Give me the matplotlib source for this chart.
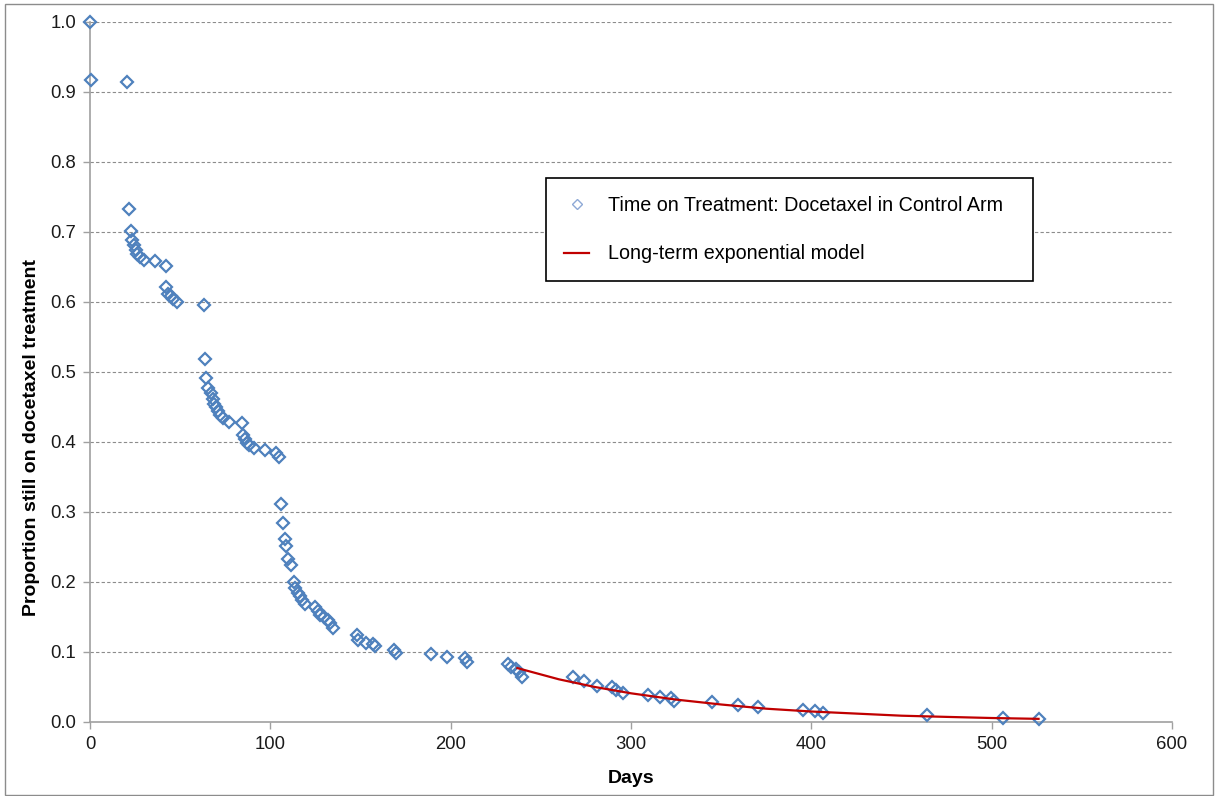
import matplotlib.pyplot as plt
from matplotlib.patches import Rectangle
from matplotlib.lines import Line2D

# observed time on treatment (days, proportion still on docetaxel)
days = [0, 0.5, 20.4, 21.5, 22.6, 23.5, 24.6, 25.5, 26.3, 27.8, 30, 35.9, 42, 42.4, 43.5,
        44.8, 46.3, 48.1, 63, 64, 64.4, 65.7, 67, 68, 69, 70, 71, 72.2, 74, 76.9,
        84.2, 84.6, 85.7, 87, 88.3, 91.1, 97.2, 103.3, 105, 105.9, 106.9, 108.3, 108.9,
        109.6, 111.7, 113, 113.9, 115.4, 116.7, 117.6, 119.4, 125, 126.3, 127.8, 129.6,
        132, 133.3, 134.6, 147.8, 148.7, 152.8, 157, 158.3, 168.5, 169.8, 188.9, 197.8,
        207.8, 208.9, 232, 233.7, 236, 237.9, 239.8, 267.6, 274, 281.1, 289.4, 291.7,
        295.4, 309.3, 316.3, 322.2, 324.1, 344.8, 359.3, 370.4, 395.4, 402.2, 406.5,
        463.9, 506.5, 526.5]
proportion = [1.0, 0.917, 0.914, 0.733, 0.701, 0.689, 0.681, 0.674, 0.668, 0.664, 0.66,
              0.659, 0.652, 0.621, 0.612, 0.608, 0.604, 0.600, 0.596, 0.518, 0.491, 0.477,
              0.470, 0.462, 0.455, 0.450, 0.444, 0.439, 0.434, 0.429, 0.427, 0.41, 0.404,
              0.399, 0.396, 0.391, 0.388, 0.385, 0.379, 0.311, 0.284, 0.262, 0.252, 0.233,
              0.225, 0.200, 0.192, 0.185, 0.180, 0.174, 0.168, 0.165, 0.159, 0.153, 0.150,
              0.146, 0.141, 0.135, 0.124, 0.117, 0.113, 0.111, 0.109, 0.103, 0.099, 0.097,
              0.093, 0.091, 0.086, 0.083, 0.079, 0.076, 0.071, 0.065, 0.064, 0.058, 0.052,
              0.050, 0.046, 0.041, 0.039, 0.036, 0.035, 0.030, 0.028, 0.024, 0.022, 0.017,
              0.016, 0.013, 0.010, 0.006, 0.004]

# long-term exponential model
model_days = [237, 260, 280, 300, 325, 350, 375, 400, 425, 450, 475, 500, 526]
model_prop = [0.077, 0.061, 0.050, 0.041, 0.032, 0.025, 0.019, 0.015, 0.012, 0.009,
              0.0073, 0.0057, 0.0045]

plt.rcParams['font.family'] = ['Liberation Sans', 'DejaVu Sans']

fig = plt.figure(figsize=(12.15, 7.96), dpi=100)
ax = fig.add_axes([90 / 1215, 1 - 722 / 796, 1082 / 1215, 700 / 796])

blue = '#4F81BD'
ax.plot(days, proportion, linestyle='none', marker='D', markersize=6.2,
        markerfacecolor='none', markeredgecolor=blue, markeredgewidth=1.6,
        clip_on=False, zorder=3)
ax.plot(model_days, model_prop, color='#C00000', linewidth=1.6, zorder=4)

ax.set_xlim(0, 600)
ax.set_ylim(0, 1.0)
ax.set_xticks(range(0, 601, 100))
ax.set_yticks([i / 10 for i in range(11)])
ax.set_yticklabels([f'{i / 10:.1f}' for i in range(11)])

for y in [i / 10 for i in range(1, 11)]:
    ax.axhline(y, color='#8c8c8c', linestyle=(0, (3, 2)), linewidth=0.8, zorder=1)

for s in ['top', 'right']:
    ax.spines[s].set_visible(False)
for s in ['left', 'bottom']:
    ax.spines[s].set_color('#a0a0a0')
    ax.spines[s].set_linewidth(1.2)
ax.tick_params(axis='both', direction='out', length=5, width=1, color='#a0a0a0',
               labelsize=13.3, labelcolor='#1a1a1a', pad=5)

ax.set_xlabel('Days', fontsize=14, fontweight='bold', labelpad=12)
ax.set_ylabel('Proportion still on docetaxel treatment', fontsize=14,
              fontweight='bold')
ax.yaxis.set_label_coords(-0.0462, 0.407)

handles = [Line2D([], [], linestyle='none', marker='D', markersize=5.5,
                  markerfacecolor='none', markeredgecolor='#8EA9D6', markeredgewidth=1.0),
           Line2D([], [], color='#C00000', linewidth=1.6)]
labels = ['Time on Treatment: Docetaxel in Control Arm', 'Long-term exponential model']
leg = ax.legend(handles, labels, loc='upper left', bbox_to_anchor=(0.4214, 0.631, 0.4501, 0.146),
                mode='expand', fontsize=14.2, frameon=True, fancybox=False,
                edgecolor='black', borderpad=0.9, labelspacing=1.5, handlelength=1.3,
                handletextpad=0.95, borderaxespad=0)
leg.get_frame().set_linewidth(1.2)
leg.get_frame().set_alpha(1)

fig.patches.append(Rectangle((5 / 1215, 0.001), 1208 / 1215, 1 - 4 / 796 - 0.001,
                             transform=fig.transFigure, fill=False,
                             edgecolor='#8c8c8c', linewidth=1.0))

fig.savefig('out.png', dpi=100)
